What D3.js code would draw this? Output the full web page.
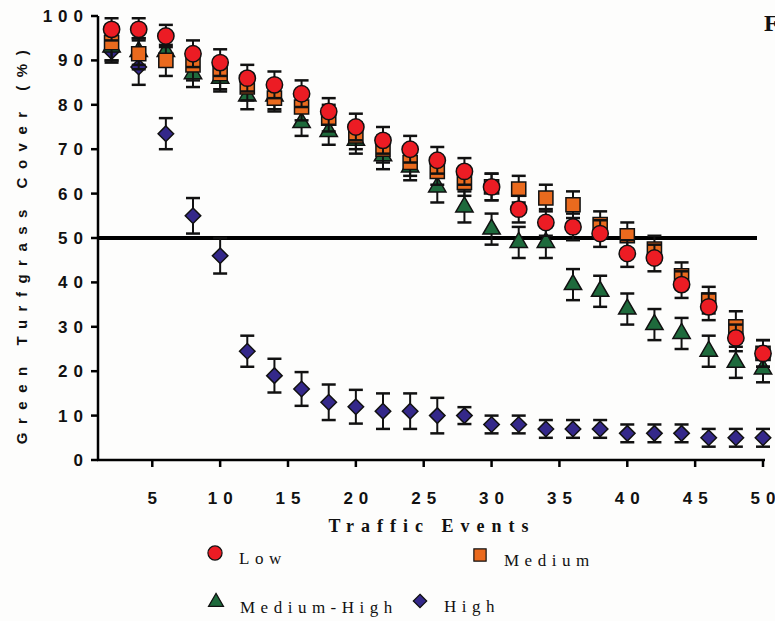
<!DOCTYPE html>
<html lang="en">
<head>
    <meta charset="UTF-8"/>
    <title>Green Turfgrass Cover</title>
    <script src="https://cdnjs.cloudflare.com/ajax/libs/d3/7.8.5/d3.min.js"></script>
    <style>
        body { margin: 0; background: #fdfdfc; }
        .tick-label { font-family: "Liberation Sans", Arial, sans-serif; font-weight: bold; font-size: 17px; letter-spacing: 6px; fill: #111; }
        .serif { font-family: "Liberation Serif", "Times New Roman", serif; fill: #111; }
    </style>
</head>
<body>
<div id="chart"></div>
<script>
    // Data
    const events = [2, 4, 6, 8, 10, 12, 14, 16, 18, 20, 22, 24, 26, 28, 30, 32, 34, 36, 38, 40, 42, 44, 46, 48, 50];
    const low = [97, 97, 95.5, 91.5, 89.5, 86, 84.5, 82.5, 78.5, 75, 72, 70, 67.5, 65, 61.5, 56.5, 53.5, 52.5, 51, 46.5, 45.5, 39.5, 34.5, 27.5, 24];
    const lowErr = [2.5, 2.5, 2.5, 3, 3, 3, 3, 3, 3, 3, 3, 3, 3, 3, 3, 3, 3, 3, 3, 3, 3, 3, 3, 3, 3];
    const medium = [94, 91.5, 90, 89, 87, 84, 81.5, 79.5, 77, 73, 70, 67, 65, 62.5, 61.5, 61, 59, 57.5, 53, 50.5, 47.5, 41.5, 36, 30, 24];
    const mediumErr = [4, 3.5, 3.5, 3.5, 3.5, 3, 3, 3, 3, 3, 3, 3, 3, 3, 3, 3, 3, 3, 3, 3, 3, 3, 3, 3.5, 3];
    const mediumHigh = [93, 92, 92, 87, 86, 82, 82, 76, 74, 72, 68.5, 66, 61.5, 57, 52, 49, 49, 39.5, 38, 34, 30.5, 28.5, 24.5, 22, 20.5];
    const mediumHighErr = [3, 3, 3, 3, 3, 3, 3, 3, 3, 3, 3, 3, 3.5, 3.5, 3.5, 3.5, 3.5, 3.5, 3.5, 3.5, 3.5, 3.5, 3.5, 3.5, 3];
    const high = [92, 88.5, 73.5, 55, 46, 24.5, 19, 16, 13, 12, 11, 11, 10, 10, 8, 8, 7, 7, 7, 6, 6, 6, 5, 5, 5];
    const highErr = [2.5, 4, 3.5, 4, 4, 3.5, 3.8, 3.8, 4, 3.8, 4, 4, 4, 1.9, 2, 2, 2, 2, 2, 2, 2, 2, 2, 2, 2];
    const yTicks = [0, 10, 20, 30, 40, 50, 60, 70, 80, 90, 100];
    const xTicks = [5, 10, 15, 20, 25, 30, 35, 40, 45, 50];
    const threshold = 50;

    const width = 775;
    const height = 621;

    const svg = d3.select("#chart")
        .append("svg")
        .attr("width", width)
        .attr("height", height);

    const xScale = d3.scaleLinear().domain([1, 50]).range([98, 763]);
    const yScale = d3.scaleLinear().domain([0, 100]).range([460, 16]);

    // square turned 45 degrees, as the chart's diamonds are not stretched
    const diamond = {
        draw(context, size) {
            const r = Math.sqrt(size / 2);
            context.moveTo(0, -r);
            context.lineTo(r, 0);
            context.lineTo(0, r);
            context.lineTo(-r, 0);
            context.closePath();
        }
    };

    // series, drawn back to front
    const series = [
        {name: "High", values: high, err: highErr, shape: diamond, size: 120, fill: "#34288a"},
        {name: "Medium-High", values: mediumHigh, err: mediumHighErr, shape: d3.symbolTriangle, size: 130, fill: "#1e6a3c"},
        {name: "Medium", values: medium, err: mediumErr, shape: d3.symbolSquare, size: 200, fill: "#ea6a1e"},
        {name: "Low", values: low, err: lowErr, shape: d3.symbolCircle, size: 210, fill: "#ec1c24"}
    ];

    // threshold line
    svg.append("line")
        .attr("x1", xScale(1))
        .attr("x2", 757)
        .attr("y1", yScale(threshold))
        .attr("y2", yScale(threshold))
        .attr("stroke", "#000")
        .attr("stroke-width", 4);

    series.forEach(s => {
        const g = svg.append("g");
        const pts = events.map((x, i) => ({x: x, y: s.values[i], e: s.err[i]}));

        // error bars
        pts.forEach(d => {
            const cx = xScale(d.x);
            g.append("line")
                .attr("x1", cx).attr("x2", cx)
                .attr("y1", yScale(d.y + d.e)).attr("y2", yScale(d.y - d.e))
                .attr("stroke", "#111").attr("stroke-width", 2);
            [d.y + d.e, d.y - d.e].forEach(v => {
                g.append("line")
                    .attr("x1", cx - 7).attr("x2", cx + 7)
                    .attr("y1", yScale(v)).attr("y2", yScale(v))
                    .attr("stroke", "#111").attr("stroke-width", 2.5);
            });
        });

        // markers
        g.selectAll("path.marker")
            .data(pts)
            .enter()
            .append("path")
            .attr("class", "marker")
            .attr("transform", d => `translate(${xScale(d.x)},${yScale(d.y)})`)
            .attr("d", d3.symbol().type(s.shape).size(s.size))
            .attr("fill", s.fill)
            .attr("stroke", "#111")
            .attr("stroke-width", 1.5);
    });

    // y axis
    svg.append("line")
        .attr("x1", 98).attr("x2", 98)
        .attr("y1", yScale(100)).attr("y2", yScale(0))
        .attr("stroke", "#000").attr("stroke-width", 2.5);

    yTicks.forEach(t => {
        svg.append("line")
            .attr("x1", 91).attr("x2", 98)
            .attr("y1", yScale(t)).attr("y2", yScale(t))
            .attr("stroke", "#000").attr("stroke-width", 2.5);
        svg.append("text")
            .attr("class", "tick-label")
            .attr("x", 89)
            .attr("y", yScale(t) + 6)
            .attr("text-anchor", "end")
            .text(t);
    });

    // x axis
    svg.append("line")
        .attr("x1", 97).attr("x2", 765)
        .attr("y1", yScale(0)).attr("y2", yScale(0))
        .attr("stroke", "#000").attr("stroke-width", 2.5);

    xTicks.forEach(t => {
        svg.append("line")
            .attr("x1", xScale(t)).attr("x2", xScale(t))
            .attr("y1", yScale(0)).attr("y2", yScale(0) + 7)
            .attr("stroke", "#000").attr("stroke-width", 2.5);
        svg.append("text")
            .attr("class", "tick-label")
            .attr("x", xScale(t) + 3)
            .attr("y", 504)
            .attr("text-anchor", "middle")
            .text(t);
    });

    // axis titles
    svg.append("text")
        .attr("transform", "translate(27,243) rotate(-90)")
        .attr("text-anchor", "middle")
        .style("font-family", "'Liberation Sans', Arial, sans-serif")
        .style("font-weight", "bold")
        .style("font-size", "15px")
        .style("letter-spacing", "8.5px")
        .style("fill", "#111")
        .text("Green Turfgrass Cover (%)");

    svg.append("text")
        .attr("class", "serif")
        .attr("x", 432)
        .attr("y", 532)
        .attr("text-anchor", "middle")
        .style("font-weight", "bold")
        .style("font-size", "18px")
        .style("letter-spacing", "7px")
        .text("Traffic Events");

    // legend
    const legendItems = [
        {name: "Low", x: 215, y: 553},
        {name: "Medium", x: 480, y: 555},
        {name: "Medium-High", x: 216, y: 602},
        {name: "High", x: 420, y: 601}
    ];

    legendItems.forEach(item => {
        const s = series.find(d => d.name === item.name);
        svg.append("path")
            .attr("transform", `translate(${item.x},${item.y})`)
            .attr("d", d3.symbol().type(s.shape).size(s.size * 0.75))
            .attr("fill", s.fill)
            .attr("stroke", "#111")
            .attr("stroke-width", 1.2);
        svg.append("text")
            .attr("class", "serif")
            .attr("x", item.x + 24)
            .attr("y", item.y + 11)
            .style("font-size", "17px")
            .style("letter-spacing", "5.5px")
            .text(item.name);
    });

    // partial panel letter at the right edge
    svg.append("text")
        .attr("class", "serif")
        .attr("x", 764)
        .attr("y", 31)
        .style("font-size", "24px")
        .style("font-weight", "bold")
        .text("F");
</script>
</body>
</html>
